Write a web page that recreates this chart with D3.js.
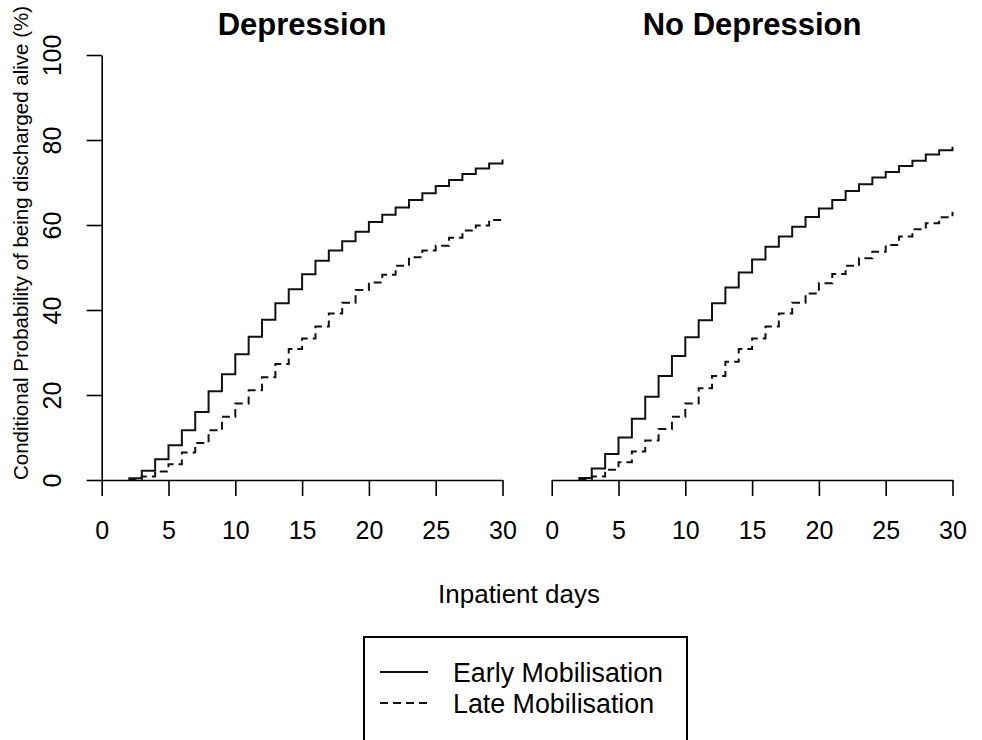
<!DOCTYPE html>
<html>
<head>
<meta charset="utf-8">
<script src="https://cdn.jsdelivr.net/npm/d3@7"></script>
<style>
  body { margin: 0; background: #fff; }
  svg { display: block; }
  text { font-family: 'Liberation Sans', Arial, sans-serif; fill: #000; }
  .axis path, .axis line { stroke: #000; stroke-width: 1.6px; }
  .axis text { font-size: 25px; }
  .step { fill: none; stroke: #111; stroke-width: 2px; }
  .late { stroke-dasharray: 8, 5; }
</style>
</head>
<body>
<svg width="982" height="740"></svg>
<script>
const days = [2, 3, 4, 5, 6, 7, 8, 9, 10, 11, 12, 13, 14, 15, 16, 17, 18, 19, 20, 21, 22, 23, 24, 25, 26, 27, 28, 29, 30]

const depEarly = [0.4, 2.2, 4.9, 8.2, 11.7, 16.0, 20.9, 24.9, 29.6, 33.7, 37.7, 41.6, 44.9, 48.4, 51.6,
  54.0, 56.2, 58.4, 60.7, 62.4, 64.1, 65.9, 67.5, 69.2, 70.6, 72.0, 73.3, 74.5, 75.4]
const depLate = [0.2, 0.8, 2.0, 3.7, 6.5, 8.7, 11.7, 14.9, 18.0, 21.1, 24.2, 27.3, 30.8, 33.3, 36.1,
  39.2, 41.7, 44.7, 46.5, 48.3, 50.4, 52.4, 54.0, 55.1, 57.0, 58.7, 59.9, 61.2, 61.5]
const noDepEarly = [0.5, 2.7, 6.1, 10.0, 14.4, 19.6, 24.5, 29.2, 33.6, 37.6, 41.6, 45.3, 48.8, 51.9, 54.9,
  57.3, 59.6, 61.9, 63.9, 65.9, 68.0, 69.6, 71.2, 72.5, 73.9, 75.1, 76.6, 77.6, 78.4]
const noDepLate = [0.2, 0.8, 2.4, 4.2, 6.7, 9.3, 12.0, 14.9, 18.0, 21.6, 24.5, 27.8, 30.8, 33.3, 36.1,
  39.2, 41.7, 43.9, 46.3, 48.5, 50.4, 52.2, 53.7, 55.3, 57.3, 59.0, 60.4, 61.8, 63.1]

const panelTitles = ['Depression', 'No Depression']
const xTicks = [0, 5, 10, 15, 20, 25, 30]
const yTicks = [0, 20, 40, 60, 80, 100]
const seriesNames = ['Early Mobilisation', 'Late Mobilisation']

const svg = d3.select('svg')

const y = d3.scaleLinear().domain([0, 100]).range([480, 55])

const panels = [
  { title: panelTitles[0], early: depEarly, late: depLate, x: d3.scaleLinear().domain([0, 30]).range([101.7, 502.5]) },
  { title: panelTitles[1], early: noDepEarly, late: noDepLate, x: d3.scaleLinear().domain([0, 30]).range([551.7, 952.5]) },
]

panels.forEach((p, pi) => {
  const g = svg.append('g')

  // x axis
  g.append('g')
    .attr('class', 'axis')
    .attr('transform', `translate(0, ${y(0)})`)
    .call(d3.axisBottom(p.x).tickValues(xTicks).tickSize(16).tickSizeOuter(0))
    .call(a => a.selectAll('text').attr('dy', null).attr('y', 59))

  // y axis only on first panel
  if (pi === 0) {
    g.append('g')
      .attr('class', 'axis')
      .attr('transform', `translate(${p.x(0)}, 0)`)
      .call(d3.axisLeft(y).tickValues(yTicks).tickSize(15).tickSizeOuter(0))
      .call(a => a.selectAll('text')
        .attr('x', null)
        .attr('dy', null)
        .attr('text-anchor', 'middle')
        .attr('transform', 'translate(-40.5, 0) rotate(-90)'))
  }

  const line = d3.line()
    .x((d, i) => p.x(days[i]))
    .y(d => y(d))
    .curve(d3.curveStepAfter)

  g.append('path')
    .attr('class', 'step')
    .attr('d', line(p.early))

  g.append('path')
    .attr('class', 'step late')
    .attr('d', line(p.late))

  g.append('text')
    .attr('x', (p.x(0) + p.x(30)) / 2)
    .attr('y', 35)
    .attr('text-anchor', 'middle')
    .style('font-size', '31px')
    .style('font-weight', 'bold')
    .text(p.title)
})

svg.append('text')
  .attr('transform', 'translate(28, 243) rotate(-90)')
  .attr('text-anchor', 'middle')
  .style('font-size', '20.5px')
  .text('Conditional Probability of being discharged alive (%)')

svg.append('text')
  .attr('x', 519)
  .attr('y', 603)
  .attr('text-anchor', 'middle')
  .style('font-size', '26px')
  .text('Inpatient days')

// legend
const legend = svg.append('g')

legend.append('rect')
  .attr('x', 364)
  .attr('y', 637)
  .attr('width', 323)
  .attr('height', 120)
  .attr('fill', 'none')
  .attr('stroke', '#000')
  .attr('stroke-width', 2)

const legendItems = legend.selectAll('g.item')
  .data(seriesNames)
  .enter()
  .append('g')
  .attr('class', 'item')
  .attr('transform', (d, i) => `translate(0, ${672 + i * 31})`)

legendItems.append('line')
  .attr('class', (d, i) => i === 1 ? 'step late' : 'step')
  .attr('x1', 380)
  .attr('x2', 428)
  .attr('y1', 0)
  .attr('y2', 0)

legendItems.append('text')
  .attr('x', 453)
  .attr('y', 10)
  .style('font-size', '26.8px')
  .text(d => d)
</script>
</body>
</html>
